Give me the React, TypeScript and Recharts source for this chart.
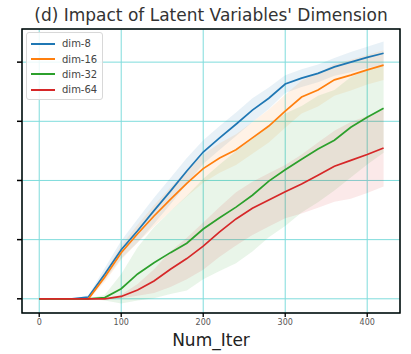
import {
  Area,
  CartesianGrid,
  ComposedChart,
  Line,
  ReferenceArea,
  XAxis,
  YAxis,
} from "recharts";

// iterations sampled every 20
const iters = [0, 20, 40, 60, 80, 100, 120, 140, 160, 180, 200, 220, 240, 260, 280, 300, 320, 340, 360, 380, 400, 420];

const dim8 = [0, 0, 0, 0.03, 0.42, 0.83, 1.15, 1.49, 1.82, 2.16, 2.48, 2.72, 2.95, 3.19, 3.39, 3.63, 3.73, 3.81, 3.92, 4.0, 4.08, 4.15];
const dim16 = [0, 0, 0, 0, 0.37, 0.78, 1.1, 1.4, 1.68, 1.95, 2.2, 2.38, 2.52, 2.72, 2.92, 3.17, 3.41, 3.53, 3.7, 3.78, 3.87, 3.95];
const dim32 = [0, 0, 0, 0, 0.02, 0.17, 0.42, 0.61, 0.78, 0.94, 1.18, 1.37, 1.55, 1.75, 1.99, 2.18, 2.36, 2.53, 2.68, 2.9, 3.07, 3.22];
const dim64 = [0, 0, 0, 0, 0, 0.04, 0.15, 0.3, 0.5, 0.68, 0.89, 1.13, 1.35, 1.53, 1.67, 1.81, 1.94, 2.09, 2.24, 2.34, 2.44, 2.55];

// spread (half width of shaded band)
const sd8 = [0, 0, 0, 0.03, 0.1, 0.15, 0.2, 0.22, 0.22, 0.22, 0.2, 0.2, 0.2, 0.2, 0.18, 0.15, 0.15, 0.15, 0.15, 0.17, 0.18, 0.2];
const sd16 = [0, 0, 0, 0.02, 0.08, 0.12, 0.15, 0.18, 0.2, 0.22, 0.24, 0.25, 0.26, 0.27, 0.28, 0.28, 0.28, 0.28, 0.27, 0.26, 0.25, 0.25];
const sd32 = [0, 0, 0, 0, 0.05, 0.25, 0.45, 0.6, 0.7, 0.8, 0.85, 0.9, 0.95, 0.95, 0.95, 0.95, 0.9, 0.9, 0.85, 0.85, 0.8, 0.75];
const sd64 = [0, 0, 0, 0, 0, 0.03, 0.1, 0.2, 0.3, 0.35, 0.4, 0.42, 0.45, 0.45, 0.45, 0.45, 0.5, 0.55, 0.6, 0.65, 0.65, 0.65];

const xTicks = [0, 100, 200, 300, 400];
const yTicks = [0, 1, 2, 3, 4];

const series = [
  { key: "d8", name: "dim-8", color: "#1f77b4", mean: dim8, sd: sd8 },
  { key: "d16", name: "dim-16", color: "#ff7f0e", mean: dim16, sd: sd16 },
  { key: "d32", name: "dim-32", color: "#2ca02c", mean: dim32, sd: sd32 },
  { key: "d64", name: "dim-64", color: "#d62728", mean: dim64, sd: sd64 },
];

const data = iters.map((x, i) => {
  const row: any = { x };
  series.forEach((s) => {
    row[s.key] = s.mean[i];
    row[s.key + "Band"] = [s.mean[i] - s.sd[i], s.mean[i] + s.sd[i]];
  });
  return row;
});

const NoTick = () => <g />;

export default function App() {
  return (
    <div style={{ position: "absolute", left: 0, top: 0, width: 411, height: 354, background: "#fff" }}>
      <div
        style={{
          position: "absolute",
          left: 22,
          width: 378,
          top: 6,
          lineHeight: "18px",
          textAlign: "center",
          fontFamily: "DejaVu Sans",
          fontSize: 17,
          color: "#333",
          whiteSpace: "nowrap",
        }}
      >
        (d) Impact of Latent Variables' Dimension
      </div>
      <ComposedChart width={411} height={354} data={data} margin={{ top: 29, right: 11, left: 17, bottom: 0 }}>
        <CartesianGrid stroke="#7fdcdc" strokeWidth={1} />
        <XAxis
          dataKey="x"
          type="number"
          domain={[-21, 440]}
          ticks={xTicks}
          height={41}
          axisLine={false}
          tickLine={{ stroke: "#000", strokeWidth: 1.3 }}
          tickSize={4}
          tickMargin={2}
          tick={{ fontSize: 8, fill: "#555", fontFamily: "DejaVu Sans" }}
          label={{ value: "Num_Iter", position: "insideBottom", offset: 8, fontSize: 17, fill: "#222", fontFamily: "DejaVu Sans" }}
        />
        <YAxis
          type="number"
          domain={[-0.24, 4.56]}
          ticks={yTicks}
          width={5}
          axisLine={false}
          tickLine={{ stroke: "#000", strokeWidth: 1.5 }}
          tickSize={5}
          tick={NoTick}
        />
        {series.map((s) => (
          <Area
            key={s.key + "Band"}
            dataKey={s.key + "Band"}
            stroke="none"
            fill={s.color}
            fillOpacity={0.1}
            isAnimationActive={false}
            legendType="none"
          />
        ))}
        {series.map((s) => (
          <Line
            key={s.key}
            dataKey={s.key}
            name={s.name}
            stroke={s.color}
            strokeWidth={1.7}
            dot={false}
            isAnimationActive={false}
          />
        ))}
        <ReferenceArea x1={-21} x2={440} y1={-0.24} y2={4.56} fill="none" stroke="#000" strokeWidth={1.5} />
      </ComposedChart>
      <div
        style={{
          position: "absolute",
          left: 26,
          top: 32,
          width: 77,
          height: 68,
          border: "1px solid #d8d8d8",
          borderRadius: 3,
          background: "rgba(255,255,255,0.85)",
          boxSizing: "border-box",
          paddingTop: 3,
        }}
      >
        {series.map((s) => (
          <div key={s.key} style={{ display: "flex", alignItems: "center", height: 15.4 }}>
            <div style={{ width: 24, height: 2, background: s.color, marginLeft: 4, marginRight: 7 }} />
            <span style={{ fontFamily: "DejaVu Sans", fontSize: 10, color: "#444" }}>{s.name}</span>
          </div>
        ))}
      </div>
    </div>
  );
}
